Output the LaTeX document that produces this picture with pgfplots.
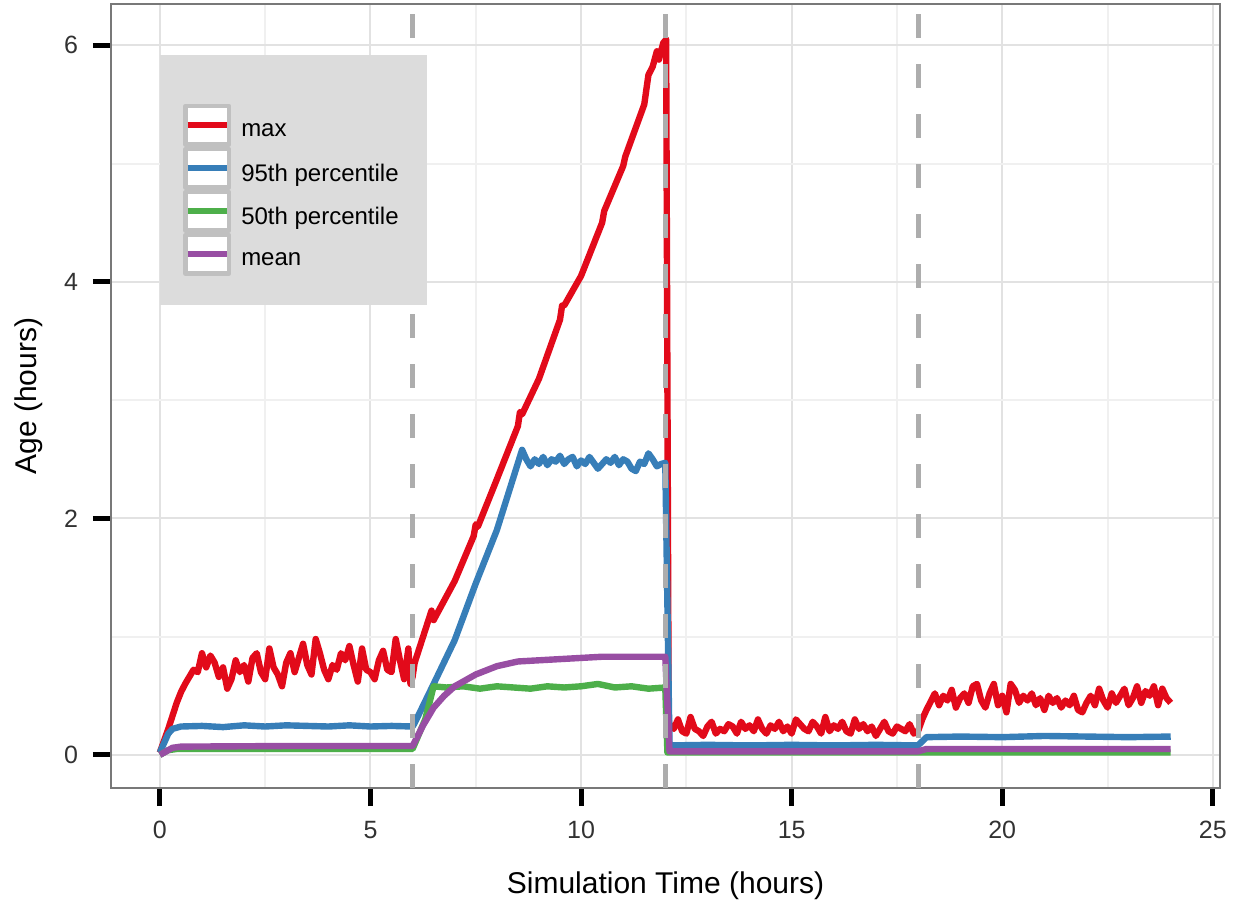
\documentclass[border=0pt]{standalone}
\usepackage{fontspec}
\setmainfont{Liberation Sans}
\usepackage{pgfplots}
\pgfplotsset{compat=1.18}

\definecolor{cmax}{RGB}{226,10,26}
\definecolor{cp95}{RGB}{55,126,184}
\definecolor{cp50}{RGB}{77,175,74}
\definecolor{cmean}{RGB}{152,78,163}
\definecolor{gridmaj}{RGB}{226,226,226}
\definecolor{gridmin}{RGB}{240,240,240}
\definecolor{panelb}{RGB}{120,120,120}
\definecolor{vline}{RGB}{173,173,173}
\definecolor{legbg}{RGB}{220,220,220}
\definecolor{keyb}{RGB}{192,192,192}
\definecolor{ticklab}{RGB}{50,50,50}

\begin{document}
\begin{tikzpicture}
\begin{axis}[
  scale only axis, width=554.5pt, height=392pt,
  xmin=-1.16, xmax=25.17, ymin=-0.28, ymax=6.35,
  xtick={0,5,10,15,20,25}, ytick={0,2,4,6},
  minor xtick={2.5,7.5,12.5,17.5,22.5}, minor ytick={1,3,5},
  grid=both,
  major grid style={draw=gridmaj, line width=1pt},
  minor grid style={draw=gridmin, line width=1pt},
  axis line style={draw=panelb, line width=1pt},
  tick align=outside, xtick pos=left, ytick pos=left,
  major tick length=9pt, minor tick length=0pt,
  major tick style={black, line width=2.5pt},
  /pgf/number format/assume math mode=true,
  ticklabel style={font=\fontsize{12.5}{14}\selectfont, text=ticklab},
  xticklabel style={yshift=-4pt},
  yticklabel style={xshift=-4pt},
  every axis x label/.style={at={([yshift=-52.5pt]axis description cs:0.5,0)}, anchor=base, font=\fontsize{15}{18}\selectfont},
  every axis y label/.style={at={([xshift=-37pt]axis description cs:0,0.5)}, rotate=90, anchor=base, font=\fontsize{15}{18}\selectfont},
  xlabel={Simulation Time (hours)},
  ylabel={Age (hours)},
  legend image code/.code={
    \draw[draw=keyb, fill=white, line width=2.2pt] (1.1pt,-9.65pt) rectangle (22.9pt,9.65pt);
    \draw[#1, line width=2.8pt] (2.2pt,0pt) -- (21.8pt,0pt);
  },
  legend style={at={(axis cs:0.546,5.51)}, anchor=north west, draw=none, fill=none,
    inner sep=0pt, row sep=0pt, font=\fontsize{12}{14}\selectfont,
    cells={anchor=west}, nodes={inner sep=0pt, inner xsep=5pt},
    /tikz/every even column/.append style={yshift=-3pt}},
  every axis plot/.append style={line width=3.2pt, line join=round},
]
\addplot[cmax] coordinates {
(0,0.02)(0.1,0.12)(0.2,0.22)(0.3,0.33)(0.4,0.44)(0.5,0.53)(0.6,0.6)(0.7,0.66)(0.8,0.72)(0.9,0.7)
(1.0,0.86)(1.1,0.74)(1.2,0.84)(1.3,0.78)(1.4,0.66)(1.5,0.74)(1.6,0.56)(1.7,0.64)(1.8,0.8)(1.9,0.7)
(2.0,0.76)(2.1,0.62)(2.2,0.82)(2.3,0.86)(2.4,0.7)(2.5,0.64)(2.6,0.9)(2.7,0.74)(2.8,0.68)(2.9,0.58)
(3.0,0.78)(3.1,0.86)(3.2,0.7)(3.3,0.82)(3.4,0.94)(3.5,0.76)(3.6,0.68)(3.7,0.98)(3.8,0.86)(3.9,0.72)
(4.0,0.64)(4.1,0.76)(4.2,0.72)(4.3,0.86)(4.4,0.8)(4.5,0.92)(4.6,0.76)(4.7,0.62)(4.8,0.9)(4.9,0.72)
(5.0,0.7)(5.1,0.64)(5.2,0.8)(5.3,0.88)(5.4,0.72)(5.5,0.7)(5.6,0.98)(5.7,0.8)(5.8,0.64)(5.9,0.9)
(5.95,0.6)(6.0,0.66)(6.05,0.78)(6.45,1.22)(6.5,1.14)(7.0,1.47)(7.45,1.85)(7.5,1.95)(7.55,1.93)(8.0,2.33)
(8.5,2.78)(8.55,2.9)(8.6,2.88)(9.0,3.18)(9.5,3.68)(9.55,3.8)(9.6,3.8)(10.0,4.05)(10.5,4.5)
(10.55,4.6)(11.0,4.98)(11.05,5.06)(11.5,5.5)(11.6,5.75)(11.7,5.82)(11.8,5.95)(11.85,5.88)
(11.95,6.02)(12.02,6.05)(12.08,0.3)
(12.1,0.25)(12.2,0.22)(12.3,0.3)(12.4,0.2)(12.5,0.18)(12.6,0.32)(12.7,0.22)(12.8,0.2)(12.9,0.16)(13.0,0.24)
(13.1,0.28)(13.2,0.18)(13.3,0.22)(13.4,0.2)(13.5,0.26)(13.6,0.24)(13.7,0.18)(13.8,0.28)(13.9,0.22)(14.0,0.25)
(14.1,0.2)(14.2,0.3)(14.3,0.22)(14.4,0.18)(14.5,0.25)(14.6,0.22)(14.7,0.28)(14.8,0.2)(14.9,0.24)(15.0,0.18)
(15.1,0.3)(15.2,0.26)(15.3,0.22)(15.4,0.2)(15.5,0.28)(15.6,0.24)(15.7,0.18)(15.8,0.32)(15.9,0.2)(16.0,0.25)
(16.1,0.22)(16.2,0.28)(16.3,0.2)(16.4,0.18)(16.5,0.3)(16.6,0.22)(16.7,0.26)(16.8,0.2)(16.9,0.24)(17.0,0.16)
(17.1,0.22)(17.2,0.28)(17.3,0.2)(17.4,0.18)(17.5,0.24)(17.6,0.22)(17.7,0.2)(17.8,0.26)(17.9,0.18)(18.0,0.2)
(18.1,0.3)(18.2,0.38)(18.3,0.45)(18.4,0.52)(18.5,0.42)(18.6,0.5)(18.7,0.46)(18.8,0.55)(18.9,0.4)(19.0,0.48)
(19.1,0.52)(19.2,0.44)(19.3,0.58)(19.4,0.6)(19.5,0.46)(19.6,0.4)(19.7,0.52)(19.8,0.6)(19.9,0.42)(20.0,0.5)
(20.1,0.36)(20.2,0.6)(20.3,0.55)(20.4,0.44)(20.5,0.5)(20.6,0.46)(20.7,0.52)(20.8,0.42)(20.9,0.48)(21.0,0.38)
(21.1,0.5)(21.2,0.44)(21.3,0.48)(21.4,0.4)(21.5,0.46)(21.6,0.42)(21.7,0.5)(21.8,0.38)(21.9,0.36)(22.0,0.44)
(22.1,0.5)(22.2,0.42)(22.3,0.56)(22.4,0.46)(22.5,0.4)(22.6,0.52)(22.7,0.44)(22.8,0.5)(22.9,0.56)(23.0,0.42)
(23.1,0.48)(23.2,0.58)(23.3,0.44)(23.4,0.54)(23.5,0.5)(23.6,0.58)(23.7,0.42)(23.8,0.56)(23.9,0.48)(24.0,0.44)
};
\addlegendentry{max}
\addplot[cp95] coordinates {
(0,0.02)(0.1,0.1)(0.2,0.18)(0.3,0.22)(0.5,0.24)(1.0,0.245)(1.5,0.235)(2.0,0.25)(2.5,0.24)(3.0,0.25)
(3.5,0.245)(4.0,0.24)(4.5,0.25)(5.0,0.24)(5.5,0.245)(6.0,0.24)(6.05,0.27)(6.5,0.6)(7.0,0.97)
(7.5,1.45)(8.0,1.9)(8.6,2.58)
(8.7,2.5)(8.8,2.44)(8.9,2.5)(9.0,2.46)(9.1,2.52)(9.2,2.45)(9.3,2.5)(9.4,2.48)(9.5,2.53)(9.6,2.46)
(9.7,2.5)(9.8,2.52)(9.9,2.44)(10.0,2.49)(10.1,2.46)(10.2,2.52)(10.3,2.47)(10.4,2.42)(10.5,2.46)(10.6,2.5)
(10.7,2.47)(10.8,2.52)(10.9,2.45)(11.0,2.5)(11.1,2.48)(11.2,2.42)(11.3,2.4)(11.4,2.48)(11.5,2.46)(11.6,2.55)
(11.7,2.5)(11.8,2.44)(11.9,2.46)(12.0,2.47)(12.1,0.08)(13,0.085)(14,0.08)(15,0.085)(16,0.08)(17,0.085)
(18.0,0.08)(18.2,0.15)(19,0.155)(20,0.15)(21,0.16)(22,0.155)(23,0.15)(24,0.155)
};
\addlegendentry{95th percentile}
\addplot[cp50] coordinates {
(0,0.0)(0.2,0.04)(0.4,0.05)(3,0.05)(6.0,0.05)(6.3,0.3)(6.5,0.58)(6.8,0.57)(7.2,0.58)(7.6,0.56)
(8.0,0.58)(8.4,0.57)(8.8,0.56)(9.2,0.58)(9.6,0.57)(10.0,0.58)(10.4,0.6)(10.8,0.57)(11.2,0.58)(11.6,0.56)
(12.0,0.57)(12.05,0.02)(18,0.02)(24,0.02)
};
\addlegendentry{50th percentile}
\addplot[cmean] coordinates {
(0,0.0)(0.3,0.06)(0.5,0.07)(3,0.075)(6.0,0.075)(6.25,0.25)(6.5,0.4)(6.75,0.5)(7.0,0.58)(7.5,0.68)
(8.0,0.75)(8.5,0.79)(9.0,0.8)(9.5,0.81)(10.0,0.82)(10.5,0.83)(11.0,0.83)(11.5,0.83)(12.0,0.83)
(12.1,0.03)(18.0,0.03)(18.2,0.05)(24,0.05)
};
\addlegendentry{mean}
\addplot[forget plot, vline, line width=2.5pt, dash pattern=on 12pt off 13pt] coordinates {(6,-0.28)(6,6.35)};
\addplot[forget plot, vline, line width=2.5pt, dash pattern=on 12pt off 13pt] coordinates {(12,-0.28)(12,6.35)};
\addplot[forget plot, vline, line width=2.5pt, dash pattern=on 12pt off 13pt] coordinates {(18,-0.28)(18,6.35)};
\fill[legbg] (axis cs:0,5.92) rectangle (axis cs:6.34,3.803);
\end{axis}
\pgfresetboundingbox
\path ([shift={(-55.5pt,-56pt)}]current axis.south west) rectangle ([shift={(562.5pt,394pt)}]current axis.south west);
\end{tikzpicture}
\end{document}
